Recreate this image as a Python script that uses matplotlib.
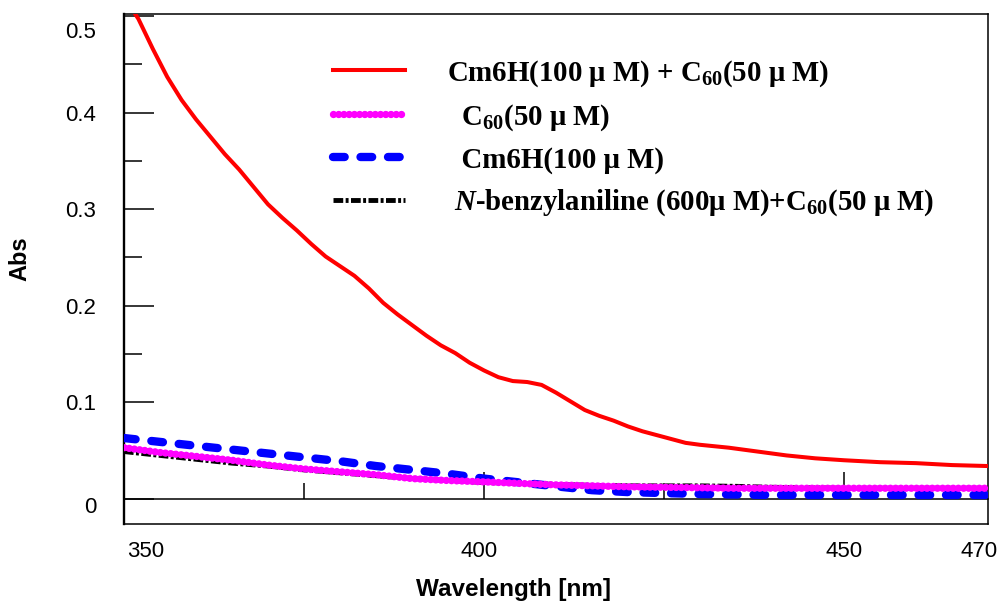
import numpy as np
import matplotlib
matplotlib.use("Agg")
import matplotlib.pyplot as plt
from matplotlib.transforms import ScaledTranslation

plt.rcParams['font.family'] = ['Liberation Sans', 'DejaVu Sans']
plt.rcParams['mathtext.fontset'] = 'custom'
plt.rcParams['mathtext.rm'] = 'Liberation Serif:bold'
plt.rcParams['mathtext.it'] = 'Liberation Serif:italic:bold'
plt.rcParams['mathtext.bf'] = 'Liberation Serif:bold'

# ---- data ----
wl_red = [350, 352, 354, 356, 358, 360, 362, 364, 366, 368, 370, 372, 374, 376,
          378, 380, 382, 384, 386, 388, 390, 392, 394, 396, 398, 400, 402, 404,
          406, 408, 410, 412, 414, 416, 418, 420, 422, 424, 426, 428, 430, 434,
          438, 442, 446, 450, 455, 460, 465, 470]
abs_red = [0.520, 0.497, 0.466, 0.437, 0.413, 0.393, 0.375, 0.357, 0.341, 0.323,
           0.305, 0.291, 0.278, 0.264, 0.251, 0.241, 0.231, 0.218, 0.203, 0.191,
           0.180, 0.169, 0.159, 0.151, 0.141, 0.133, 0.126, 0.122, 0.121, 0.118,
           0.110, 0.101, 0.092, 0.086, 0.081, 0.075, 0.070, 0.066, 0.062, 0.058,
           0.056, 0.053, 0.049, 0.045, 0.042, 0.040, 0.038, 0.037, 0.035, 0.034]

wl_low = [350, 355, 360, 365, 370, 375, 380, 385, 390, 395, 400, 405, 410, 415,
          420, 425, 430, 435, 440, 450, 460, 470]
abs_c60 = [0.053, 0.048, 0.044, 0.040, 0.035, 0.031, 0.028, 0.025, 0.021, 0.019,
           0.0176, 0.016, 0.0145, 0.0135, 0.0125, 0.012, 0.0115, 0.011, 0.011,
           0.011, 0.011, 0.011]
abs_cm6h = [0.063, 0.059, 0.055, 0.051, 0.047, 0.043, 0.039, 0.034, 0.030, 0.026,
            0.021, 0.017, 0.013, 0.009, 0.007, 0.006, 0.005, 0.0045, 0.004,
            0.004, 0.004, 0.004]
abs_nba = [0.049, 0.045, 0.041, 0.037, 0.034, 0.030, 0.027, 0.024, 0.021, 0.019,
           0.017, 0.016, 0.015, 0.014, 0.0135, 0.0135, 0.0135, 0.013, 0.012,
           0.011, 0.011, 0.011]

labels = ['Cm6H(100 μ M) + C$_{60}$(50 μ M)',
          '  C$_{60}$(50 μ M)',
          '  Cm6H(100 μ M)',
          ' $N$-benzylaniline (600μ M)+C$_{60}$(50 μ M)']

x_labels = [350, 400, 450, 470]
x_major = [350, 400, 450]
x_minor = [375, 425]
y_major = [0, 0.1, 0.2, 0.3, 0.4, 0.5]
y_minor = [0.05, 0.15, 0.25, 0.35, 0.45]
y_labels = ['0', '0.1', '0.2', '0.3', '0.4', '0.5']

# ---- figure ----
fig = plt.figure(figsize=(10, 6.02), dpi=100)
ax = fig.add_axes([0.124, 0.1296, 0.864, 0.847])

l_nba, = ax.plot(wl_low, abs_nba, color='black', lw=3.5,
                 linestyle=(0, (2.0, 0.5, 0.6, 0.5)), zorder=2)
l_cm6h, = ax.plot(wl_low, abs_cm6h, color='#0000ff', lw=6,
                  linestyle=(0, (1.4, 1.9)), dash_capstyle='round', zorder=3)
l_c60, = ax.plot(wl_low, abs_c60, color='#ff00ff', lw=5.3,
                 linestyle=(0, (0.01, 0.7)), dash_capstyle='round', zorder=4)
l_red, = ax.plot(wl_red, abs_red, color='#ff0000', lw=2.9, zorder=5)

ax.set_xlim(350, 470)
ax.set_ylim(-0.026, 0.502)

# frame
for side in ['top', 'right', 'bottom']:
    ax.spines[side].set_linewidth(1.1)
ax.spines['left'].set_linewidth(1.7)

# y ticks
ax.set_yticks(y_major)
ax.set_yticklabels(y_labels)
ax.set_yticks(y_minor, minor=True)
ax.tick_params(axis='y', which='major', direction='in', length=21.6, width=1.1,
               pad=20, labelsize=16)
ax.tick_params(axis='y', which='minor', direction='in', length=13, width=1.1)

# x labels below the box, no marks there
ax.set_xticks(x_labels)
ax.set_xticklabels([str(v) for v in x_labels])
ax.tick_params(axis='x', which='both', length=0, pad=12, labelsize=16)

# baseline at zero with the x ticks
sec = ax.secondary_xaxis(0, transform=ax.transData)
sec.set_xticks(x_major)
sec.set_xticks(x_minor, minor=True)
sec.tick_params(which='major', direction='in', length=19.5, width=1.1,
                labelbottom=False)
sec.tick_params(which='minor', direction='in', length=11.5, width=1.1,
                labelbottom=False)
sec.spines['bottom'].set_linewidth(1.1)

# nudge a few labels like the original
ylabs = ax.get_yticklabels()
ylabs[-1].set_transform(ylabs[-1].get_transform() +
                        ScaledTranslation(0, -0.14, fig.dpi_scale_trans))
ylabs[0].set_transform(ylabs[0].get_transform() +
                       ScaledTranslation(0, -0.06, fig.dpi_scale_trans))
xlabs = ax.get_xticklabels()
xlabs[0].set_transform(xlabs[0].get_transform() +
                       ScaledTranslation(0.22, 0, fig.dpi_scale_trans))
xlabs[1].set_transform(xlabs[1].get_transform() +
                       ScaledTranslation(-0.05, 0, fig.dpi_scale_trans))
xlabs[3].set_transform(xlabs[3].get_transform() +
                       ScaledTranslation(-0.09, 0, fig.dpi_scale_trans))

ax.set_xlabel('Wavelength [nm]', fontsize=17.5, fontweight='bold')
ax.xaxis.set_label_coords(0.451, -0.106)
ax.set_ylabel('Abs', fontsize=17, fontweight='bold')
ax.yaxis.set_label_coords(-0.107, 0.52)

ax.legend([l_red, l_c60, l_cm6h, l_nba], labels, loc='upper left',
          bbox_to_anchor=(0.242, 0.914), frameon=False, borderpad=0,
          borderaxespad=0, handlelength=2.49, handletextpad=1.45,
          labelspacing=0.47,
          prop={'family': 'Liberation Serif', 'weight': 'bold', 'size': 20.8})

fig.savefig('out.png', dpi=100)
